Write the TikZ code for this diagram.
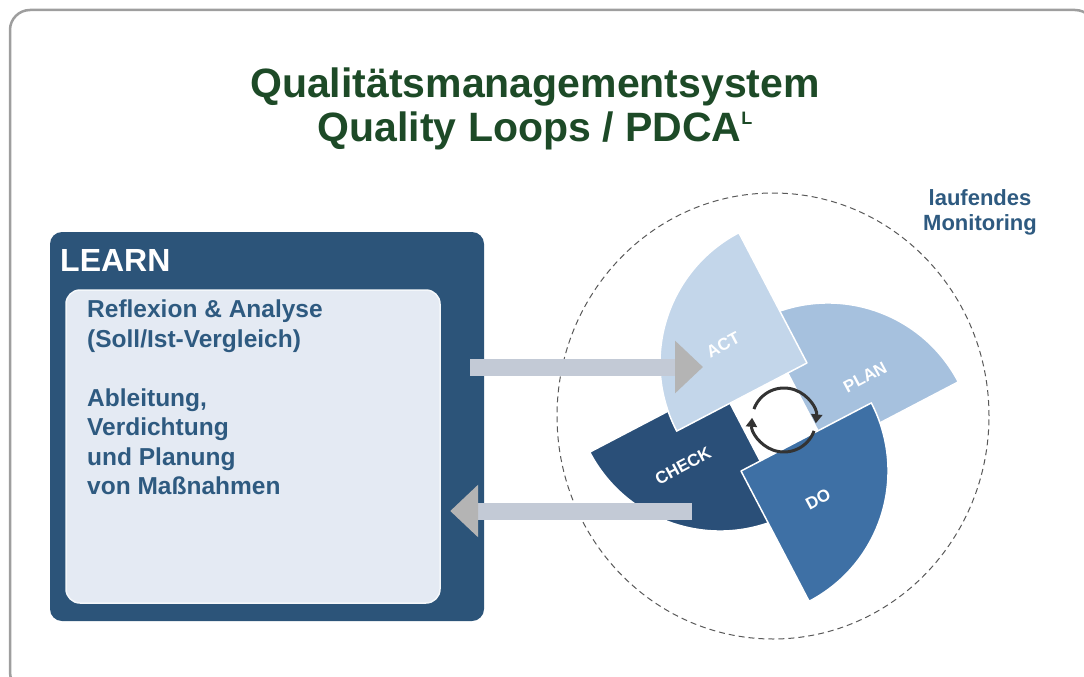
\documentclass[tikz,border=0pt]{standalone}
\usepackage{fontspec}
\setmainfont{Liberation Sans}
\usepackage{tikz}
\usetikzlibrary{arrows.meta,positioning,calc}

\definecolor{qmgreen}{HTML}{1D4A27}
\definecolor{qmblue}{HTML}{2E5A80}
\definecolor{learnblue}{HTML}{2C5479}
\definecolor{infobg}{HTML}{E4EAF3}
\definecolor{actfill}{HTML}{C3D6EA}
\definecolor{planfill}{HTML}{A6C1DE}
\definecolor{dofill}{HTML}{3E70A5}
\definecolor{checkfill}{HTML}{2A4F78}
\definecolor{shaftgray}{HTML}{C3CAD6}
\definecolor{tipgray}{HTML}{B4B4B4}

\begin{document}
\begin{tikzpicture}[x=1pt,y=1pt,
  heading/.style={text=qmgreen,font=\bfseries\fontsize{41}{44}\selectfont,inner sep=0pt},
  wedge/.style={draw=white,line width=1.5pt,line join=round},
  seg/.style={text=white,rotate=28,font=\bfseries\fontsize{17}{17}\selectfont},
  flow/.style={draw=shaftgray,line width=17pt,-{Triangle[length=28pt,width=51pt,color=tipgray]}},
  looparrow/.style={draw=black!80,line width=3pt,-{Triangle[length=9pt,width=11pt]}}]
  \useasboundingbox (0,0) rectangle (1084,-677);
  \draw[black!38,line width=2.5pt,rounded corners=20pt] (10,-10) rectangle (1095,-692);

  % title
  \node[heading,anchor=base] (title) at (535,-97) {Qualitätsmanagementsystem};
  \node[heading,anchor=base] (subtitle) at (535,-141) {Quality Loops / PDCA\raisebox{16.5pt}{\fontsize{18}{18}\selectfont L}};

  % learn box
  \node[fill=learnblue,rounded corners=12pt,minimum width=434pt,minimum height=389pt,inner sep=0pt] (learn) at (267,-426.5) {};
  \node[anchor=base west,text=white,font=\bfseries\fontsize{32}{32}\selectfont,inner sep=0pt] (learnlbl) at (60,-271) {LEARN};
  \node[fill=infobg,draw=white!60!infobg,line width=1.5pt,rounded corners=14pt,minimum width=374pt,minimum height=313pt,inner sep=0pt] (info) at (253,-446.5) {};
  \node[anchor=north west,align=left,text=qmblue,font=\bfseries\fontsize{24.5}{29.5}\selectfont,inner sep=0pt] (infotext) at (87,-300)
    {Reflexion \& Analyse\\(Soll/Ist-Vergleich)\\[29.5pt]Ableitung,\\Verdichtung\\und Planung\\von Maßnahmen};

  % monitoring
  \draw[dashed,dash pattern=on 6pt off 4pt,draw=black!65,line width=1pt] (773,-416) ellipse [x radius=216,y radius=223];
  \node[anchor=north,align=center,text=qmblue,font=\bfseries\fontsize{22}{25}\selectfont,inner sep=0pt] (monitor) at (980,-189) {laufendes\\Monitoring};

  % pdca wheel
  \coordinate (c) at (774,-417);
  \filldraw[wedge,fill=planfill] ($(c)+(-31.4:63.3)$) -- ++(27.6:147) arc[start angle=27.6,end angle=117.6,radius=147] -- cycle;
  \filldraw[wedge,fill=checkfill] ($(c)+(148.6:63.3)$) -- ++(207.6:147) arc[start angle=207.6,end angle=297.6,radius=147] -- cycle;
  \filldraw[wedge,fill=actfill] ($(c)+(58.6:63.3)$) -- ++(117.6:147) arc[start angle=117.6,end angle=207.6,radius=147] -- cycle;
  \filldraw[wedge,fill=dofill] ($(c)+(-121.4:63.3)$) -- ++(-62.4:147) arc[start angle=-62.4,end angle=27.6,radius=147] -- cycle;

  \node[seg] (act) at (723,-345) {ACT};
  \node[seg] (plan) at (865,-377) {PLAN};
  \node[seg] (check) at (683,-466) {CHECK};
  \node[seg] (do) at (818,-499) {DO};

  \coordinate (loop) at (784,-420);
  \draw[looparrow] ($(loop)+(160:32)$) arc[start angle=160,end angle=-6,radius=32];
  \draw[looparrow] ($(loop)+(-20:32)$) arc[start angle=-20,end angle=-184,radius=32];

  % flows between learn box and wheel
  \coordinate (actin) at (703,-367);
  \coordinate (checkout) at (692,-511);
  \draw[flow] ($(learn.east |- actin)+(-14,0)$) -- (actin);
  \draw[flow] (checkout) -- ($(learn.east |- checkout)+(-34,0)$);
\end{tikzpicture}
\end{document}
